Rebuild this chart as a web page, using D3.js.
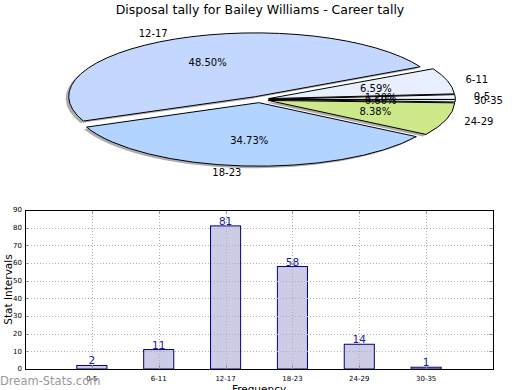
<!DOCTYPE html>
<html>
<head>
<meta charset="utf-8">
<script src="https://cdn.jsdelivr.net/npm/d3@7"></script>
<style>
  body { margin: 0; background: #fff; }
  svg { font-family: "DejaVu Sans", sans-serif; }
</style>
</head>
<body>
<svg id="chart" width="520" height="390"></svg>
<script>
// data
const categories = ['0-5', '6-11', '12-17', '18-23', '24-29', '30-35'];
const counts = [2, 11, 81, 58, 14, 1];
const sliceColors = ['#f4f7ff', '#e8f0ff', '#c4d8ff', '#b3d4ff', '#cde98a', '#e8f4ff'];
const yTicks = [0, 10, 20, 30, 40, 50, 60, 70, 80, 90];

const svg = d3.select('#chart');
const total = d3.sum(counts);

svg.append('text')
  .attr('x', 260).attr('y', 14)
  .attr('text-anchor', 'middle')
  .style('font-size', '12.5px')
  .text('Disposal tally for Bailey Williams - Career tally');

/* Pie (ellipse, counter-clockwise from east, every slice exploded) */
const cx = 259.5, cy = 99.5, rx = 186.5, ry = 63.5, explode = 0.05;

const pie = d3.pie().sort(null)
  .startAngle(Math.PI / 2)
  .endAngle(Math.PI / 2 - 2 * Math.PI);
const arcs = pie(counts);
const unitArc = d3.arc().innerRadius(0).outerRadius(1);

// d3 angle -> math angle (ccw from east)
const mathAngle = (a) => Math.PI / 2 - a;

const slices = arcs.map((d, i) => {
  const mid = mathAngle((d.startAngle + d.endAngle) / 2);
  return {
    arc: d,
    i: i,
    mid: mid,
    ox: cx + explode * rx * Math.cos(mid),
    oy: cy - explode * ry * Math.sin(mid),
  };
});

const pieG = svg.append('g');

// shadows first
pieG.selectAll('path.shadow')
  .data(slices)
  .enter()
  .append('path')
  .attr('class', 'shadow')
  .attr('d', (s) => unitArc(s.arc))
  .attr('transform', (s) => `translate(${s.ox - 3},${s.oy + 2}) scale(${rx},${ry})`)
  .attr('fill', '#777')
  .attr('opacity', 0.6);

pieG.selectAll('path.slice')
  .data(slices)
  .enter()
  .append('path')
  .attr('class', 'slice')
  .attr('d', (s) => unitArc(s.arc))
  .attr('transform', (s) => `translate(${s.ox},${s.oy}) scale(${rx},${ry})`)
  .attr('fill', (s) => sliceColors[s.i])
  .attr('stroke', '#000')
  .attr('stroke-width', 1)
  .attr('vector-effect', 'non-scaling-stroke');

// category labels
pieG.selectAll('text.lbl')
  .data(slices)
  .enter()
  .append('text')
  .attr('x', (s) => s.ox + 1.1 * rx * Math.cos(s.mid))
  .attr('y', (s) => s.oy - 1.1 * ry * Math.sin(s.mid))
  .attr('dy', '0.35em')
  .attr('text-anchor', (s) => Math.cos(s.mid) > 0 ? 'start' : 'end')
  .style('font-size', '10px')
  .text((s) => categories[s.i]);

// percentage labels
pieG.selectAll('text.pct')
  .data(slices)
  .enter()
  .append('text')
  .attr('x', (s) => s.ox + 0.6 * rx * Math.cos(s.mid))
  .attr('y', (s) => s.oy - 0.6 * ry * Math.sin(s.mid))
  .attr('dy', '0.35em')
  .attr('text-anchor', 'middle')
  .style('font-size', '10px')
  .text((s) => (counts[s.i] / total * 100).toFixed(2) + '%');

/* Bar chart */
const plotLeft = 25, plotRight = 493, plotTop = 210, plotBottom = 369;

const x = d3.scaleLinear().domain([-1, 6]).range([plotLeft, plotRight]);
const y = d3.scaleLinear().domain([0, 90]).range([plotBottom, plotTop]);
const barW = x(0.45) - x(0);

const barG = svg.append('g');

barG.selectAll('rect')
  .data(counts)
  .enter()
  .append('rect')
  .attr('x', (d, i) => x(i) - barW / 2)
  .attr('y', (d) => y(d))
  .attr('width', barW)
  .attr('height', (d) => y(0) - y(d))
  .attr('fill', '#ccccE6')
  .attr('stroke', '#000080')
  .attr('stroke-width', 1);

// grid (drawn above bars)
const grid = svg.append('g')
  .attr('stroke', '#b0b0b0')
  .attr('stroke-width', 1)
  .attr('stroke-dasharray', '1,2');

grid.selectAll('line.h')
  .data(yTicks.slice(1, -1))
  .enter()
  .append('line')
  .attr('x1', plotLeft).attr('x2', plotRight)
  .attr('y1', (d) => Math.round(y(d)) + 0.5)
  .attr('y2', (d) => Math.round(y(d)) + 0.5);

grid.selectAll('line.v')
  .data(categories)
  .enter()
  .append('line')
  .attr('x1', (d, i) => Math.round(x(i)) + 0.5)
  .attr('x2', (d, i) => Math.round(x(i)) + 0.5)
  .attr('y1', plotTop).attr('y2', plotBottom);

// inner ticks
const ticks = svg.append('g').attr('stroke', '#999').attr('stroke-width', 1);
yTicks.forEach((t) => {
  const yy = Math.round(y(t)) + 0.5;
  ticks.append('line').attr('x1', plotLeft).attr('x2', plotLeft + 4).attr('y1', yy).attr('y2', yy);
  ticks.append('line').attr('x1', plotRight - 4).attr('x2', plotRight).attr('y1', yy).attr('y2', yy);
});
categories.forEach((c, i) => {
  const xx = Math.round(x(i)) + 0.5;
  ticks.append('line').attr('x1', xx).attr('x2', xx).attr('y1', plotBottom).attr('y2', plotBottom - 4);
  ticks.append('line').attr('x1', xx).attr('x2', xx).attr('y1', plotTop).attr('y2', plotTop + 4);
});

// frame
svg.append('rect')
  .attr('x', plotLeft + 0.5).attr('y', plotTop + 0.5)
  .attr('width', plotRight - plotLeft).attr('height', plotBottom - plotTop)
  .attr('fill', 'none')
  .attr('stroke', '#000')
  .attr('stroke-width', 1);

// tick labels
svg.append('g').selectAll('text')
  .data(yTicks)
  .enter()
  .append('text')
  .attr('x', plotLeft - 3)
  .attr('y', (d) => y(d))
  .attr('dy', '0.35em')
  .attr('text-anchor', 'end')
  .style('font-size', '7px')
  .text((d) => d);

svg.append('g').selectAll('text')
  .data(categories)
  .enter()
  .append('text')
  .attr('x', (d, i) => x(i))
  .attr('y', plotBottom + 12)
  .attr('text-anchor', 'middle')
  .style('font-size', '7px')
  .text((d) => d);

// value labels
svg.append('g').selectAll('text')
  .data(counts)
  .enter()
  .append('text')
  .attr('x', (d, i) => x(i))
  .attr('y', (d) => y(d) - 1)
  .attr('text-anchor', 'middle')
  .attr('fill', '#1a1a99')
  .style('font-size', '10.5px')
  .text((d) => d);

// axis titles
svg.append('text')
  .attr('transform', `translate(8,${(plotTop + plotBottom) / 2}) rotate(-90)`)
  .attr('text-anchor', 'middle')
  .attr('dy', '0.35em')
  .style('font-size', '10.5px')
  .text('Stat Intervals');

svg.append('text')
  .attr('x', (plotLeft + plotRight) / 2)
  .attr('y', 393)
  .attr('text-anchor', 'middle')
  .style('font-size', '10.5px')
  .text('Frequency');

// watermark
svg.append('text')
  .attr('x', 0).attr('y', 385)
  .attr('fill', '#999')
  .style('font-size', '11.5px')
  .text('Dream-Stats.com');
</script>
</body>
</html>
